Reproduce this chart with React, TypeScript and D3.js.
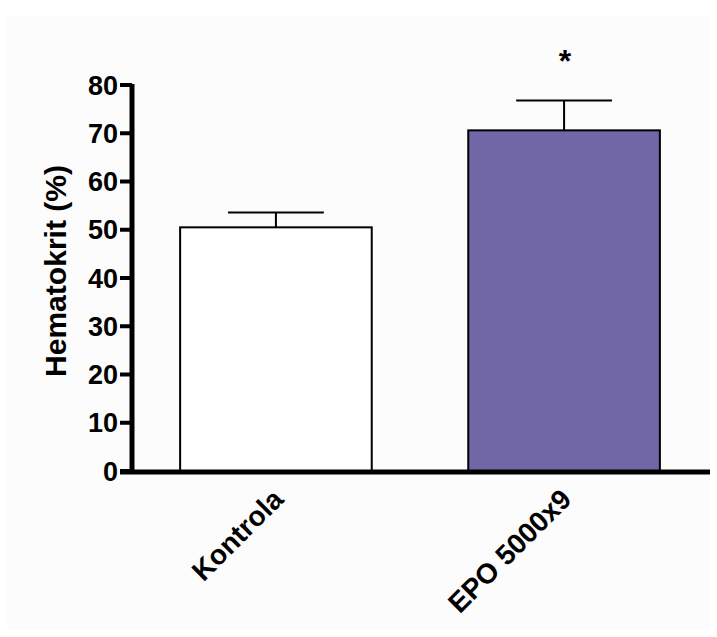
import React from 'react';
import * as d3 from 'd3';

const categories = ['Kontrola', 'EPO 5000x9'];
const means = [50.5, 70.6];
const errors = [3.1, 6.2];
const barColors = ['#ffffff', '#7167a7'];
const significant = [false, true];
const yTicks = [0, 10, 20, 30, 40, 50, 60, 70, 80];

const FONT = '"Liberation Sans", Arial, Helvetica, sans-serif';

export default function App() {
  const width = 717,
        height = 637,
        axisX = 132,
        axisY = 472;

  const y = d3.scaleLinear()
              .domain([0, 80])
              .range([471, 85]);

  const x = d3.scaleBand()
              .domain(categories)
              .range([axisX, 708])
              .paddingInner(0.335)
              .paddingOuter(0.167);

  const bw = x.bandwidth();

  return (
    <svg width={width} height={height}
         style={{position: 'absolute', left: 0, top: 0, background: '#fff'}}
         fontFamily={FONT} fontWeight="bold">
      <rect x={7} y={16} width={703} height={614} fill="#fcfcfc" />

      {categories.map((c, i) => {
        const x0 = x(c),
              cx = x0 + bw / 2,
              top = y(means[i]),
              errTop = y(means[i] + errors[i]);
        return (
          <g key={c}>
            <rect x={x0} y={top} width={bw} height={y(0) - top}
                  fill={barColors[i]} stroke="#000" strokeWidth={2} />
            <line x1={cx} x2={cx} y1={top} y2={errTop} stroke="#000" strokeWidth={2} />
            <line x1={cx - bw / 4} x2={cx + bw / 4} y1={errTop} y2={errTop}
                  stroke="#000" strokeWidth={2} />
            {significant[i] &&
              <text x={cx + 1} y={errTop - 28} textAnchor="middle" fontSize={32}>*</text>}
            <text transform={`translate(${cx + 9},${axisY + 29}) rotate(-45)`}
                  textAnchor="end" fontSize={28}>{c}</text>
          </g>
        );
      })}

      {/* y axis */}
      <line x1={axisX} x2={axisX} y1={y(80) - 1} y2={axisY + 2} stroke="#000" strokeWidth={5} />
      {yTicks.map(t =>
        <g key={t}>
          <line x1={axisX - 12} x2={axisX} y1={y(t)} y2={y(t)} stroke="#000" strokeWidth={4} />
          <text x={axisX - 14} y={y(t)} dy="0.36em" textAnchor="end" fontSize={27}>{t}</text>
        </g>
      )}

      {/* x axis */}
      <line x1={axisX - 12} x2={710} y1={axisY} y2={axisY} stroke="#000" strokeWidth={5} />

      <text transform={`translate(66,${(165 + 377) / 2}) rotate(-90)`}
            textAnchor="middle" fontSize={29} textLength={212}
            lengthAdjust="spacingAndGlyphs">Hematokrit (%)</text>
    </svg>
  );
}
